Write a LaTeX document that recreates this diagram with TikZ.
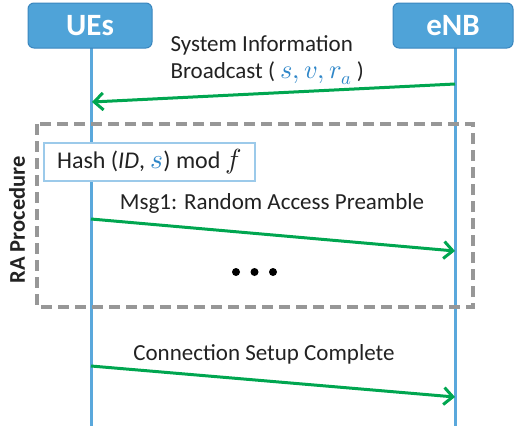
\documentclass[tikz,border=0pt]{standalone}
\usepackage{fontspec}
\setmainfont{Carlito}
\usepackage{unicode-math}
\setmathfont{Latin Modern Math}[Scale=1.15]
\usetikzlibrary{arrows.meta}
\definecolor{boxblue}{HTML}{4FA3D8}
\definecolor{boxedge}{HTML}{3A86BE}
\definecolor{lifeblue}{HTML}{5AA8DC}
\definecolor{msggreen}{HTML}{00A650}
\definecolor{dashgray}{HTML}{979797}
\definecolor{hashedge}{HTML}{9CCAEA}
\definecolor{mathblue}{HTML}{2E86C8}
\definecolor{txt}{HTML}{222222}
\tikzset{
  actor/.style={draw=boxedge, fill=boxblue, rounded corners=6pt, line width=1pt,
    minimum width=124pt, minimum height=45pt, text=white, font=\fontsize{31}{34}\selectfont\bfseries},
  life/.style={draw=lifeblue, line width=3pt},
  msg/.style={draw=msggreen, line width=3pt, -{Straight Barb[length=9pt,width=17pt,line width=3pt]}},
  lbl/.style={text=txt, font=\fontsize{23}{27}\selectfont, align=center},
  group/.style={draw=dashgray, line width=3.2pt, dash pattern=on 11pt off 6pt},
  hashbox/.style={draw=hashedge, fill=white, line width=2pt, minimum width=211pt, minimum height=38pt,
    text=txt, font=\fontsize{24}{27}\selectfont},
}
\begin{document}
\begin{tikzpicture}[x=1pt,y=-1pt]
\useasboundingbox (0,0) rectangle (514,426);
% lifelines
\coordinate (ueTop) at (91,48);
\coordinate (ueBot) at (91,426);
\coordinate (enbTop) at (455,48);
\coordinate (enbBot) at (455,426);
\draw[life] (ueTop) -- (ueBot);
\draw[life] (enbTop) -- (enbBot);
% actors
\node[actor] (ue) at (90,25.5) {UEs};
\node[actor, minimum width=120pt] (enb) at (453,25.5) {eNB};
% group box
\draw[group] (37,124) rectangle (473,307);
\node[rotate=90, text=txt, font=\fontsize{22.5}{27}\selectfont\bfseries] (ra) at (17,220) {RA Procedure};
% hash
\node[hashbox] (hash) at (149.5,162) {Hash ($\mathit{ID}$, {\color{mathblue}$s$}) mod $f$};
% message 1
\coordinate (m1s) at (455,84);
\coordinate (m1e) at (92,102);
\draw[msg] (m1s) -- (m1e);
\node[lbl, anchor=west] (l1) at (167,45) {System Information};
\node[lbl, anchor=west] (l1b) at (167,73) {Broadcast ( {\color{mathblue}$s,v,r_a$} )};
% message 2
\coordinate (m2s) at (91,219);
\coordinate (m2e) at (455,251);
\draw[msg] (m2s) -- (m2e);
\node[lbl] (l2) at (272,203) {Msg1: Random Access Preamble};
% dots
\node[circle, fill=black, inner sep=0pt, minimum size=8pt] (d1) at (236,272) {};
\node[circle, fill=black, inner sep=0pt, minimum size=8pt] (d2) at (254.5,272) {};
\node[circle, fill=black, inner sep=0pt, minimum size=8pt] (d3) at (273,272) {};
% message 3
\coordinate (m3s) at (91,366);
\coordinate (m3e) at (455,397);
\draw[msg] (m3s) -- (m3e);
\node[lbl] (l3) at (264,354) {Connection Setup Complete};
\end{tikzpicture}
\end{document}
